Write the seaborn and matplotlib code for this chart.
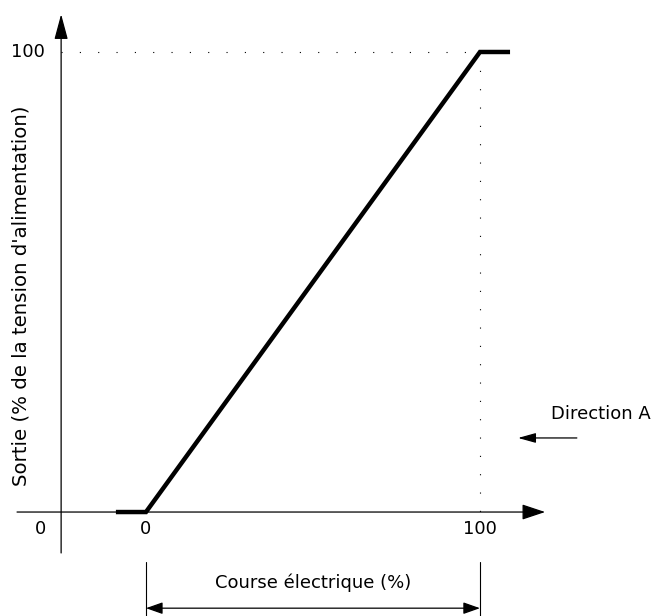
import matplotlib
matplotlib.use("Agg")
import matplotlib.pyplot as plt
import seaborn as sns
import pandas as pd

course = [-9, 0, 100, 109]
sortie = [0, 0, 100, 100]
x_ticks = [0, 100]
y_ticks = [100]

sns.set_theme(style="white")
plt.rcParams['font.family'] = ['DejaVu Sans']
plt.rcParams['text.color'] = 'black'

fig = plt.figure(figsize=(6.54, 6.16), dpi=100)
ax = fig.add_axes([0, 0, 1, 1])
ax.set_xlim(-43.7, 152.1)
ax.set_ylim(-22.6, 111.3)
ax.axis("off")

df = pd.DataFrame({"course": course, "sortie": sortie})
sns.lineplot(data=df, x="course", y="sortie", ax=ax, color="black", lw=3.2,
             solid_joinstyle="miter", solid_capstyle="butt", sort=False)

# axes with arrows
ax.annotate("", xy=(119.5, 0), xytext=(-38.6, 0),
            arrowprops=dict(arrowstyle="-|>,head_length=1.2,head_width=0.4", color="black", lw=0.9,
                            shrinkA=0, shrinkB=0))
ax.annotate("", xy=(-25.4, 108.2), xytext=(-25.4, -8.9),
            arrowprops=dict(arrowstyle="-|>,head_length=1.3,head_width=0.35", color="black", lw=0.9,
                            shrinkA=0, shrinkB=0))

# dotted guides
ax.plot([-25.4, 100], [100, 100], color="black", lw=0.8, linestyle=(0, (1, 15.5)))
ax.plot([100, 100], [100, 0], color="black", lw=0.8, linestyle=(0, (1, 15.5)))

# tick labels
fs = 13
for t in x_ticks:
    ax.text(t, -3.6, str(t), ha="center", va="center", fontsize=fs, color="black")
for t in y_ticks:
    ax.text(-35.2, t, str(t), ha="center", va="center", fontsize=fs, color="black")
ax.text(-31.7, -3.6, "0", ha="center", va="center", fontsize=fs, color="black")

ax.text(-37.3, 47.0, "Sortie (% de la tension d'alimentation)", rotation=90,
        ha="center", va="center", fontsize=14.2, color="black")

# dimension line
ax.plot([0, 0], [-10.9, -22.6], color="black", lw=0.8)
ax.plot([100, 100], [-10.9, -22.6], color="black", lw=0.8)
ax.annotate("", xy=(0, -20.9), xytext=(100, -20.9),
            arrowprops=dict(arrowstyle="<|-|>,head_length=0.85,head_width=0.3", color="black", lw=0.9,
                            shrinkA=0, shrinkB=0))
ax.text(50, -15.4, "Course électrique (%)", ha="center", va="center", fontsize=13, color="black")

# direction A
ax.text(121.2, 21.3, "Direction A", ha="left", va="center", fontsize=fs, color="black")
ax.annotate("", xy=(111.4, 16.1), xytext=(129.0, 16.1),
            arrowprops=dict(arrowstyle="-|>,head_length=0.9,head_width=0.25", color="black", lw=0.9,
                            shrinkA=0, shrinkB=0))

fig.savefig("out.png", dpi=100)
